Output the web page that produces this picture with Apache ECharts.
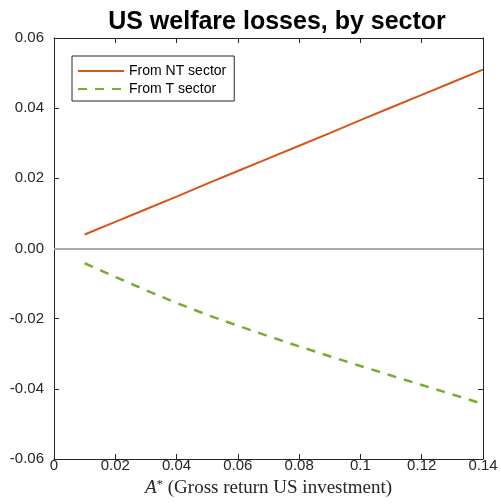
<!DOCTYPE html>
<html>
<head>
<meta charset="utf-8">
<script src="https://cdn.jsdelivr.net/npm/echarts@6/dist/echarts.min.js"></script>
<style>
  html, body { margin: 0; padding: 0; background: #fff; }
  #chart { width: 501px; height: 504px; }
</style>
</head>
<body>
<div id="chart"></div>
<script>
// Gross return on US investment (A*)
const returns = [0.01, 0.02, 0.03, 0.04, 0.05, 0.06, 0.07, 0.08, 0.09, 0.10, 0.11, 0.12, 0.13, 0.14];
// Welfare losses coming from the non-tradable sector
const lossNT = [0.0040, 0.0076, 0.0112, 0.0148, 0.0185, 0.0221, 0.0257, 0.0293, 0.0329, 0.0366, 0.0402, 0.0438, 0.0474, 0.0510];
// Welfare losses coming from the tradable sector
const lossT = [-0.0042, -0.0081, -0.0119, -0.0155, -0.0189, -0.0220, -0.0250, -0.0279, -0.0307, -0.0335, -0.0362, -0.0389, -0.0416, -0.0443];

const seriesNames = ['From NT sector', 'From T sector'];
const xTicks = { min: 0, max: 0.14, step: 0.02 };
const yTicks = { min: -0.06, max: 0.06, step: 0.02 };

const axisColor = '#262626';
const sans = '"Liberation Sans", Arial, Helvetica, sans-serif';
const serif = '"Liberation Serif", "Times New Roman", serif';

const chart = echarts.init(document.getElementById('chart'), null, { renderer: 'canvas' });

const pairs = (xs, ys) => xs.map((x, i) => [x, ys[i]]);

// Every side of the frame: plain line, short ticks pointing into the plot
const frameAxis = () => ({
  axisLine: { show: true, onZero: false, lineStyle: { color: axisColor, width: 1 } },
  axisTick: { show: true, inside: true, length: 5, lineStyle: { color: axisColor } },
  splitLine: { show: false }
});

chart.setOption({
  animation: false,
  backgroundColor: '#ffffff',
  title: {
    text: 'US welfare losses, by sector',
    left: 272,
    top: 5,
    textAlign: 'center',
    textStyle: { fontFamily: sans, fontWeight: 'bold', fontSize: 25, color: '#000' }
  },
  grid: { left: 54, right: 18, top: 38, bottom: 45, containLabel: false },
  legend: {
    orient: 'vertical',
    left: 72,
    top: 56,
    padding: [8, 8, 5, 5],
    itemWidth: 46,
    itemHeight: 14,
    itemGap: 4,
    borderColor: '#262626',
    borderWidth: 1,
    backgroundColor: '#fff',
    itemStyle: { opacity: 0 },
    textStyle: { fontFamily: sans, fontSize: 14, color: '#000' },
    data: seriesNames
  },
  xAxis: [
    Object.assign({
      type: 'value',
      position: 'bottom',
      min: xTicks.min,
      max: xTicks.max,
      interval: xTicks.step,
      axisLabel: { fontFamily: sans, fontSize: 15, color: '#262626', margin: -1 },
      name: '{it|A}{sup|*} (Gross return US investment)',
      nameLocation: 'middle',
      nameGap: 18,
      nameTextStyle: {
        fontFamily: serif, fontSize: 19, color: '#262626',
        rich: {
          it: { fontFamily: serif, fontStyle: 'italic', fontSize: 19, color: '#262626' },
          sup: { fontFamily: serif, fontSize: 13, color: '#262626', verticalAlign: 'top', padding: [0, 0, 8, 0] }
        }
      }
    }, frameAxis()),
    Object.assign({
      type: 'value',
      position: 'top',
      min: xTicks.min,
      max: xTicks.max,
      interval: xTicks.step,
      axisLabel: { show: false }
    }, frameAxis())
  ],
  yAxis: [
    Object.assign({
      type: 'value',
      position: 'left',
      min: yTicks.min,
      max: yTicks.max,
      interval: yTicks.step,
      axisLabel: {
        fontFamily: sans, fontSize: 15, color: '#262626', margin: 10,
        formatter: v => (Math.abs(v) < 1e-9 ? 0 : v).toFixed(2)
      }
    }, frameAxis()),
    Object.assign({
      type: 'value',
      position: 'right',
      min: yTicks.min,
      max: yTicks.max,
      interval: yTicks.step,
      axisLabel: { show: false }
    }, frameAxis())
  ],
  series: [
    {
      name: seriesNames[0],
      type: 'line',
      data: pairs(returns, lossNT),
      showSymbol: false,
      symbol: 'none',
      lineStyle: { color: '#D95319', width: 2 },
      itemStyle: { color: '#D95319' },
      z: 3,
      markLine: {
        silent: true,
        symbol: 'none',
        label: { show: false },
        lineStyle: { color: '#aaaaaa', width: 2, type: 'solid' },
        data: [{ yAxis: 0 }],
        z: 1
      }
    },
    {
      name: seriesNames[1],
      type: 'line',
      data: pairs(returns, lossT),
      showSymbol: false,
      symbol: 'none',
      lineStyle: { color: '#77AC30', width: 2.5, type: [9, 8] },
      itemStyle: { color: '#77AC30' },
      z: 3
    }
  ]
});
</script>
</body>
</html>
